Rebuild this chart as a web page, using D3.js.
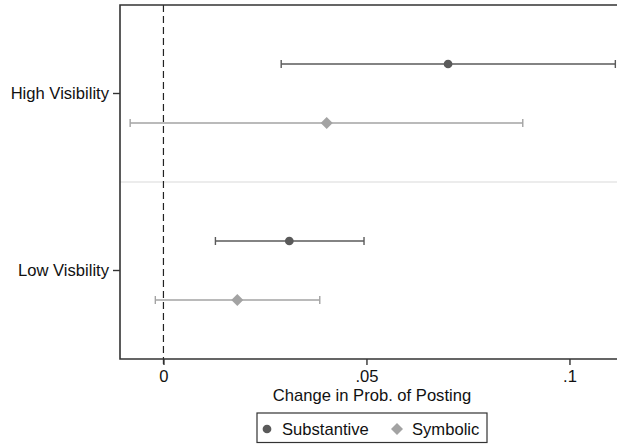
<!DOCTYPE html>
<html>
  <head>
    <meta charset="utf-8" />
    <title>Change in Prob. of Posting</title>
    <script src="https://d3js.org/d3.v7.min.js"></script>
    <style>
      body {
        margin: 0;
        background: #fff;
        font-family: "Liberation Sans", Arial, sans-serif;
      }
      svg {
        display: block;
      }
    </style>
  </head>
  <body>
    <svg width="617" height="444"></svg>

    <script>
      // groups, top to bottom
      const groups = ["High Visibility", "Low Visbility"];
      const series = ["Substantive", "Symbolic"];
      // point estimates and 95% interval, one value per group
      const substantiveEst = [0.0701, 0.0310];
      const substantiveLo = [0.0290, 0.0128];
      const substantiveHi = [0.1113, 0.0494];
      const symbolicEst = [0.0402, 0.0182];
      const symbolicLo = [-0.0082, -0.0020];
      const symbolicHi = [0.0885, 0.0385];
      const xTicks = [0, 0.05, 0.1];
      const xTickLabels = ["0", ".05", ".1"];

      const colors = { Substantive: "#5a5a5a", Symbolic: "#a3a3a3" };
      const fontSize = 16.6;

      const svg = d3.select("svg");
      const margin = { top: 5, right: -2, bottom: 85, left: 120 };
      const width = +svg.attr("width");
      const height = +svg.attr("height");
      const innerWidth = width - margin.left - margin.right;
      const innerHeight = height - margin.top - margin.bottom;

      const g = svg.append("g")
        .attr("transform", `translate(${margin.left}, ${margin.top})`);

      const x = d3.scaleLinear().domain([-0.0107, 0.1122]).range([0, innerWidth]);
      const y = d3.scaleBand().domain(groups).range([0, innerHeight]);
      const offset = d3.scalePoint().domain(series).range([-y.bandwidth() / 6, y.bandwidth() / 6]);

      const rows = [];
      groups.forEach((grp, i) => {
        rows.push({ grp, s: "Substantive", est: substantiveEst[i], lo: substantiveLo[i], hi: substantiveHi[i] });
        rows.push({ grp, s: "Symbolic", est: symbolicEst[i], lo: symbolicLo[i], hi: symbolicHi[i] });
      });
      const yPos = d => y(d.grp) + y.bandwidth() / 2 + offset(d.s);

      // separator between groups
      g.append("line")
        .attr("x1", 0).attr("x2", innerWidth)
        .attr("y1", y("Low Visbility")).attr("y2", y("Low Visbility"))
        .attr("stroke", "#d9d9d9").attr("stroke-width", 1.2);

      // reference line at zero
      g.append("line")
        .attr("x1", x(0)).attr("x2", x(0))
        .attr("y1", 0).attr("y2", innerHeight + 6)
        .attr("stroke", "#222").attr("stroke-width", 1.2)
        .attr("stroke-dasharray", "7,4");

      // intervals
      const ci = g.selectAll(".ci").data(rows).enter().append("g")
        .attr("stroke", d => colors[d.s]).attr("stroke-width", 1.4);
      ci.append("line")
        .attr("x1", d => x(d.lo)).attr("x2", d => x(d.hi))
        .attr("y1", yPos).attr("y2", yPos);
      ci.append("line")
        .attr("x1", d => x(d.lo)).attr("x2", d => x(d.lo))
        .attr("y1", d => yPos(d) - 4).attr("y2", d => yPos(d) + 4);
      ci.append("line")
        .attr("x1", d => x(d.hi)).attr("x2", d => x(d.hi))
        .attr("y1", d => yPos(d) - 4).attr("y2", d => yPos(d) + 4);

      const circle = d3.symbol().type(d3.symbolCircle).size(60);
      const diamond = d3.symbol().type(d3.symbolSquare).size(72);

      g.selectAll(".pt").data(rows).enter().append("path")
        .attr("d", d => d.s === "Substantive" ? circle() : diamond())
        .attr("transform", d => `translate(${x(d.est)},${yPos(d)})` + (d.s === "Symbolic" ? " rotate(45)" : ""))
        .attr("fill", d => colors[d.s]);

      // frame
      g.append("path")
        .attr("d", `M${innerWidth},0H0V${innerHeight}H${innerWidth}`)
        .attr("fill", "none").attr("stroke", "#333").attr("stroke-width", 1.6);

      // axes
      const xAxis = d3.axisBottom(x).tickValues(xTicks)
        .tickFormat((d, i) => xTickLabels[i]).tickSize(6).tickPadding(5);
      const xg = g.append("g").attr("transform", `translate(0,${innerHeight})`).call(xAxis);
      xg.select(".domain").remove();

      const yAxis = d3.axisLeft(y).tickSize(7).tickPadding(4);
      const yg = g.append("g").call(yAxis);
      yg.select(".domain").remove();

      svg.selectAll(".tick text").attr("font-size", fontSize).attr("font-family", "Liberation Sans, Arial, sans-serif").attr("fill", "#111");
      svg.selectAll(".tick line").attr("stroke", "#333").attr("stroke-width", 1.4);

      svg.append("text")
        .attr("x", 372).attr("y", 401)
        .attr("text-anchor", "middle")
        .attr("font-size", fontSize).attr("fill", "#111")
        .text("Change in Prob. of Posting");

      // legend
      const lg = svg.append("g").attr("transform", "translate(257,413)");
      lg.append("rect")
        .attr("width", 230).attr("height", 29.5)
        .attr("fill", "#fff").attr("stroke", "#333").attr("stroke-width", 1.2);
      lg.append("path").attr("d", circle()).attr("transform", "translate(10,16)").attr("fill", colors.Substantive);
      lg.append("text").attr("x", 25).attr("y", 22).attr("font-size", fontSize).attr("fill", "#111").text("Substantive");
      lg.append("path").attr("d", diamond()).attr("transform", "translate(140,16) rotate(45)").attr("fill", colors.Symbolic);
      lg.append("text").attr("x", 155).attr("y", 22).attr("font-size", fontSize).attr("fill", "#111").text("Symbolic");
    </script>
  </body>
</html>
